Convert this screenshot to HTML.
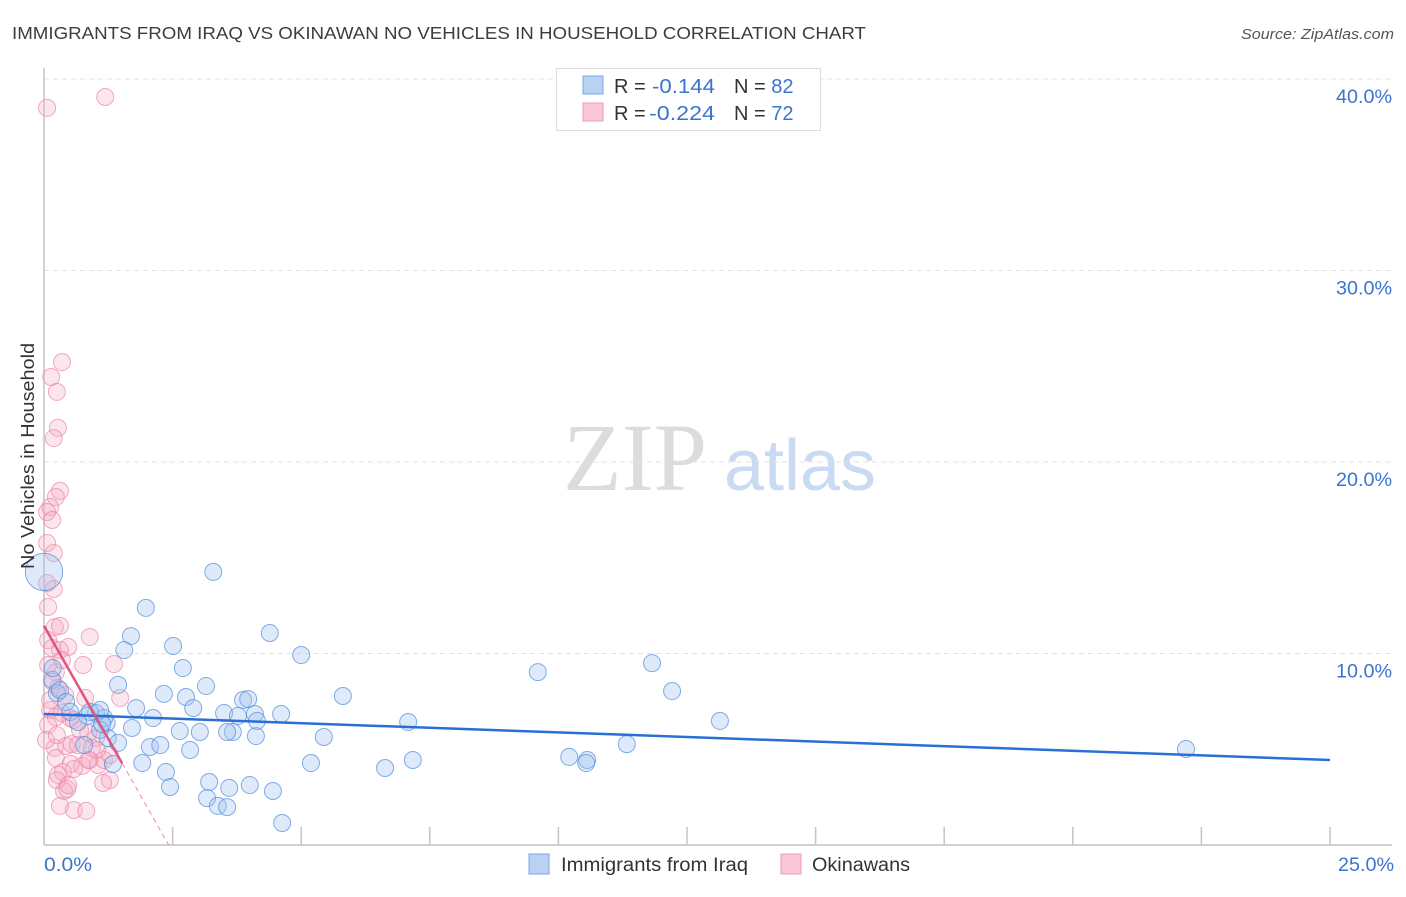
<!DOCTYPE html>
<html><head><meta charset="utf-8"><style>
body{margin:0;background:#fff;font-family:"Liberation Sans",sans-serif;}
svg text{font-family:"Liberation Sans",sans-serif;}
</style></head><body>
<svg id="chart" width="1406" height="892" viewBox="0 0 1406 892">
<text x="12" y="39" font-size="17.5" fill="#3d3d3d" textLength="854" lengthAdjust="spacingAndGlyphs">IMMIGRANTS FROM IRAQ VS OKINAWAN NO VEHICLES IN HOUSEHOLD CORRELATION CHART</text>
<text x="1241" y="39" font-size="15" fill="#555" font-style="italic" textLength="153" lengthAdjust="spacingAndGlyphs">Source: ZipAtlas.com</text>
<g>
<text x="635" y="490" font-size="96" fill="#dcdcdc" font-family="Liberation Serif" text-anchor="middle" style="font-family:'Liberation Serif',serif">ZIP</text>
<text x="800" y="490" font-size="72" fill="#c9daf2" text-anchor="middle">atlas</text>
</g>
<g id="grid"></g>
<g id="axes"></g>
<g id="points"></g>
<g id="trends"></g>
<text transform="translate(34,456) rotate(-90)" font-size="18" fill="#333" text-anchor="middle" textLength="226" lengthAdjust="spacingAndGlyphs">No Vehicles in Household</text>
<g>
<rect x="556.5" y="68.5" width="264" height="62" fill="#fff" stroke="#ddd"/>
<rect x="583" y="76" width="20" height="18" fill="#b9d2f4" stroke="#7aa6e6"/>
<rect x="583" y="103" width="20" height="18" fill="#f9c7d6" stroke="#ef9bb5"/>
<text x="614" y="93" font-size="20" fill="#333">R =</text>
<text x="652" y="93" font-size="20" fill="#3b74d0" textLength="63" lengthAdjust="spacingAndGlyphs">-0.144</text>
<text x="734" y="93" font-size="20" fill="#333">N = <tspan fill="#3b74d0">82</tspan></text>
<text x="614" y="120" font-size="20" fill="#333">R =</text>
<text x="649" y="120" font-size="20" fill="#3b74d0" textLength="66" lengthAdjust="spacingAndGlyphs">-0.224</text>
<text x="734" y="120" font-size="20" fill="#333">N = <tspan fill="#3b74d0">72</tspan></text>
</g>
<g>
<rect x="529" y="854" width="20" height="20" fill="#b9d2f4" stroke="#7aa6e6"/>
<text x="561" y="871" font-size="19" fill="#333" textLength="187" lengthAdjust="spacingAndGlyphs">Immigrants from Iraq</text>
<rect x="781" y="854" width="20" height="20" fill="#f9c7d6" stroke="#ef9bb5"/>
<text x="812" y="871" font-size="19" fill="#333" textLength="98" lengthAdjust="spacingAndGlyphs">Okinawans</text>
</g>
</svg>
<script>
const yTicks=[10,20,30,40];
const yTickLabels=["10.0%","20.0%","30.0%","40.0%"];
const xTicks=[2.5,5,7.5,10,12.5,15,17.5,20,22.5,25];
const xMinLabel="0.0%", xMaxLabel="25.0%";
const iraqX=[3.29,1.98,1.69,1.56,2.51,4.39,5.00,2.70,9.60,11.82,12.21,13.14,22.20,3.15,2.33,2.76,3.87,3.97,5.81,2.90,1.44,1.79,2.12,3.50,4.10,3.77,4.61,7.08,2.64,1.22,1.71,3.67,4.12,5.44,2.84,2.06,2.26,4.14,3.56,3.03,1.91,2.37,3.21,3.60,4.00,4.45,5.19,6.63,7.17,10.21,10.56,10.54,11.33,3.17,3.38,3.56,2.45,4.63,1.34,1.24,1.01,0.84,1.17,0.16,0.25,0.31,0.43,0.51,0.89,0.66,1.09,0.78,1.09,0.17,1.44,1.13,0.0];
const iraqY=[14.26,12.38,10.91,10.18,10.39,11.07,9.92,9.24,9.03,9.50,8.04,6.48,5.01,8.30,7.89,7.73,7.57,7.62,7.78,7.15,8.36,7.15,6.63,6.89,6.84,6.74,6.84,6.42,5.95,6.37,6.11,5.90,5.69,5.64,4.96,5.12,5.22,6.48,5.90,5.90,4.28,3.81,3.29,2.98,3.13,2.82,4.28,4.02,4.44,4.60,4.44,4.28,5.27,2.45,2.04,1.98,3.03,1.15,4.23,5.59,6.89,6.74,6.63,8.62,7.94,8.09,7.47,6.95,6.95,6.42,6.01,5.22,7.05,9.24,5.33,6.32,14.26];
const iraqSize=[1,1,1,1,1,1,1,1,1,1,1,1,1,1,1,1,1,1,1,1,1,1,1,1,1,1,1,1,1,1,1,1,1,1,1,1,1,1,1,1,1,1,1,1,1,1,1,1,1,1,1,1,1,1,1,1,1,1,1,1,1,1,1,1,1,1,1,1,1,1,1,1,1,1,1,1,2.2];
const okiX=[0.06,1.19,0.35,0.14,0.25,0.27,0.19,0.31,0.23,0.12,0.06,0.16,0.06,0.19,0.06,0.19,0.08,0.21,0.31,0.08,0.47,0.89,0.76,1.36,0.23,0.17,0.27,0.41,0.80,1.48,0.12,0.23,0.35,0.51,0.58,0.08,0.70,0.86,1.01,0.21,0.43,0.54,0.66,0.93,0.23,0.52,0.74,0.89,1.05,1.17,0.27,0.37,0.58,0.86,1.28,1.15,0.25,0.39,0.45,0.31,0.58,0.82,0.04,0.12,0.25,1.28,0.47,1.03,0.16,0.31,0.35,0.08];
const okiY=[38.49,39.06,25.22,24.44,23.66,21.78,21.25,18.49,18.17,17.65,17.39,16.97,15.77,15.25,13.68,13.37,12.43,11.38,11.44,10.70,10.34,10.86,9.40,9.45,9.03,8.51,8.20,7.83,7.68,7.68,7.05,6.68,6.89,6.63,6.53,6.27,6.01,5.85,5.59,5.07,5.17,5.27,5.22,5.07,4.54,4.23,4.13,4.44,4.18,4.44,3.66,3.81,3.97,4.44,3.39,3.24,3.39,2.82,2.92,2.04,1.83,1.78,5.48,7.57,5.74,4.70,3.13,4.96,10.29,10.18,9.66,9.40];
const iraqTrend=[6.84,4.44];
const okiTrend={intercept:11.44,slope:-4.72,solidEnd:1.52};

const X0=44,X1=1330,Y0=845,YPER=19.15;
const sx=v=>X0+(v/25)*(X1-X0);
const sy=v=>Y0-v*YPER;
const NS="http://www.w3.org/2000/svg";
function mk(tag,attrs,parent){const e=document.createElementNS(NS,tag);for(const k in attrs)e.setAttribute(k,attrs[k]);parent.appendChild(e);return e;}
const grid=document.getElementById('grid'),axes=document.getElementById('axes'),pts=document.getElementById('points'),tr=document.getElementById('trends');
yTicks.forEach((t,i)=>{
 const l=mk('line',{x1:X0,x2:1392,y1:sy(t),y2:sy(t),stroke:'#e2e2e2','stroke-dasharray':'5,4'},grid);
 
 
 const tx=mk('text',{x:1392,y:sy(t)+24,'font-size':19,fill:'#3b74d0','text-anchor':'end',textLength:56,lengthAdjust:'spacingAndGlyphs'},axes);
 tx.textContent=yTickLabels[i];
 
 
});
const ax=mk('line',{x1:X0,x2:X0,y1:68,y2:Y0,stroke:'#c4c4c4','stroke-width':1.5},axes);


const bx=mk('line',{x1:X0,x2:1392,y1:Y0,y2:Y0,stroke:'#c4c4c4','stroke-width':1.5},axes);


xTicks.forEach(t=>{
 const l=mk('line',{x1:sx(t),x2:sx(t),y1:Y0,y2:Y0-18,stroke:'#c4c4c4','stroke-width':1.5},axes);
 
 
});
const xl0=mk('text',{x:44,y:871,'font-size':19,fill:'#3b74d0',textLength:48,lengthAdjust:'spacingAndGlyphs'},axes);xl0.textContent=xMinLabel;


const xl1=mk('text',{x:1338,y:871,'font-size':19,fill:'#3b74d0',textLength:56,lengthAdjust:'spacingAndGlyphs'},axes);xl1.textContent=xMaxLabel;


okiX.forEach((v,i)=>{
 const c=mk('circle',{cx:sx(v),cy:sy(okiY[i]),r:8.5,fill:'rgba(246,170,196,0.3)',stroke:'rgba(235,135,165,0.7)','stroke-width':1},pts);
 
 
});
iraqX.forEach((v,i)=>{
 const c=mk('circle',{cx:sx(v),cy:sy(iraqY[i]),r:8.5*iraqSize[i],fill:'rgba(160,196,242,0.35)',stroke:'rgba(80,140,220,0.7)','stroke-width':1},pts);
 
 
});
const bl=mk('line',{x1:sx(0),y1:sy(iraqTrend[0]),x2:sx(25),y2:sy(iraqTrend[1]),stroke:'#2a6fd6','stroke-width':2.5},tr);


const f=x=>okiTrend.intercept+okiTrend.slope*x;
const pl=mk('line',{x1:sx(0),y1:sy(f(0)),x2:sx(okiTrend.solidEnd),y2:sy(f(okiTrend.solidEnd)),stroke:'#e0557f','stroke-width':2.5},tr);


const xz=-okiTrend.intercept/okiTrend.slope;
const pd=mk('line',{x1:sx(okiTrend.solidEnd),y1:sy(f(okiTrend.solidEnd)),x2:sx(xz),y2:sy(0),stroke:'#e889a6','stroke-width':1,'stroke-dasharray':'5,4'},tr);


</script>
</body></html>
